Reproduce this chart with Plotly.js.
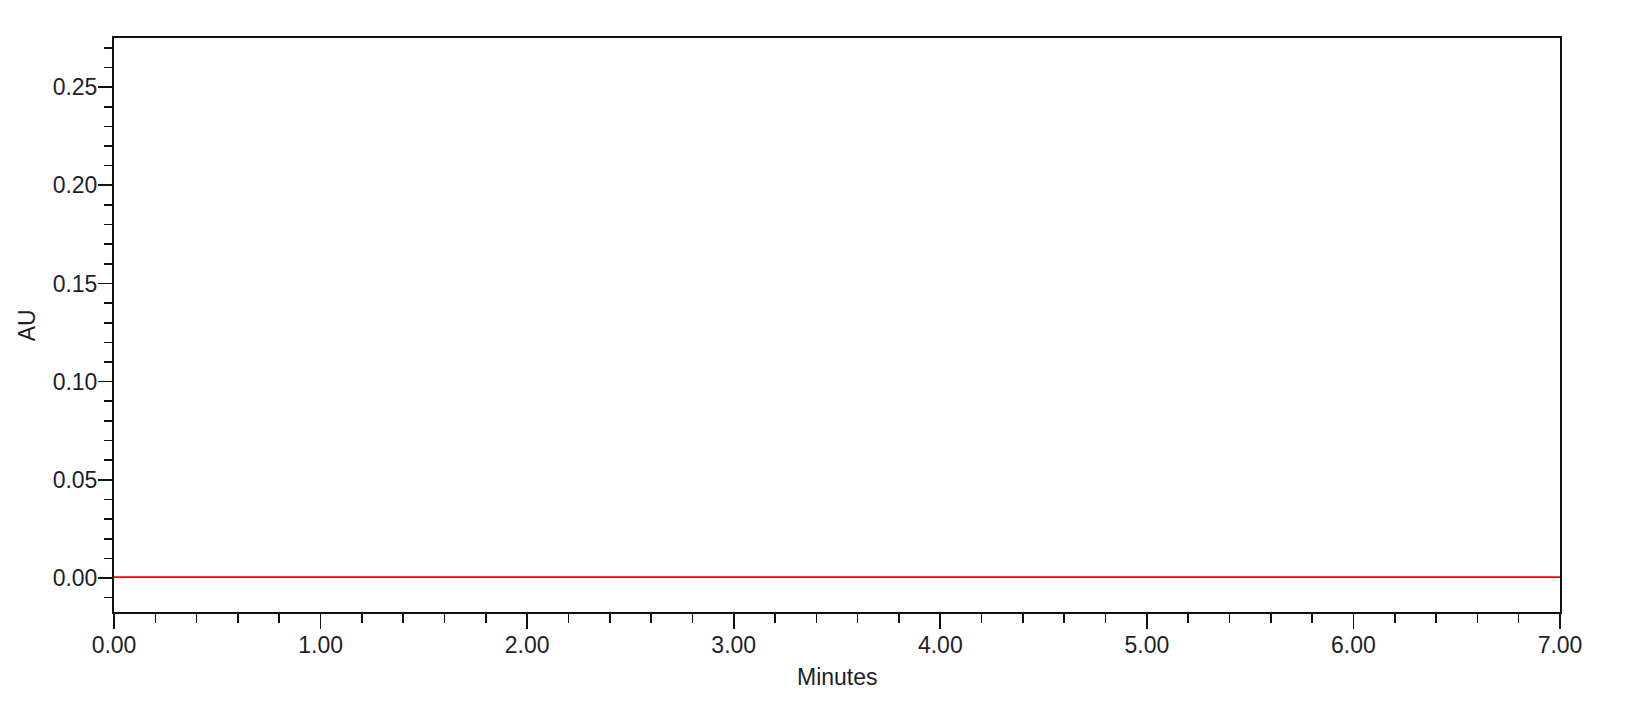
<!DOCTYPE html>
<html>
<head>
<meta charset="utf-8">
<script src="https://cdn.plot.ly/plotly-3.0.1.min.js"></script>
<style>
  html, body { margin: 0; padding: 0; background: #fff; }
  #chart { width: 1627px; height: 701px; }
</style>
</head>
<body>
<div id="chart"></div>
<script>
// Data (flat baseline, no peaks)
const timeMinutes = [0.00, 1.00, 2.00, 3.00, 4.00, 5.00, 6.00, 7.00];
const absorbanceAU = [0.0005, 0.0005, 0.0005, 0.0005, 0.0005, 0.0005, 0.0005, 0.0005];

const xTitle = "Minutes";
const yTitle = "AU";

const tickFont = { family: "Liberation Sans, Arial, sans-serif", size: 23, color: "#1e1e28" };

const trace = {
  x: timeMinutes,
  y: absorbanceAU,
  type: "scatter",
  mode: "lines",
  line: { color: "#ff0000", width: 1.8 },
  hoverinfo: "skip",
  showlegend: false
};

const layout = {
  width: 1627,
  height: 701,
  margin: { l: 114, r: 67, t: 38, b: 89 },
  paper_bgcolor: "#ffffff",
  plot_bgcolor: "#ffffff",
  showlegend: false,
  xaxis: {
    range: [0, 7],
    dtick: 1,
    tick0: 0,
    tickformat: ".2f",
    ticks: "outside",
    ticklen: 15,
    tickwidth: 1.6,
    tickcolor: "#111",
    ticklabelstandoff: -4,
    minor: { dtick: 0.2, ticks: "outside", ticklen: 9, tickwidth: 1.6, tickcolor: "#111", showgrid: false },
    showgrid: false,
    zeroline: false,
    showline: true,
    linecolor: "#111",
    linewidth: 2,
    mirror: true,
    tickfont: tickFont,
    automargin: false
  },
  yaxis: {
    range: [-0.0173, 0.275],
    dtick: 0.05,
    tick0: 0,
    tickformat: ".2f",
    ticks: "outside",
    ticklen: 14,
    tickwidth: 1.6,
    tickcolor: "#111",
    ticklabelstandoff: -4,
    minor: { dtick: 0.01, ticks: "outside", ticklen: 8, tickwidth: 1.6, tickcolor: "#111", showgrid: false },
    showgrid: false,
    zeroline: false,
    showline: true,
    linecolor: "#111",
    linewidth: 2,
    mirror: true,
    tickfont: tickFont,
    automargin: false
  },
  annotations: [{
    text: yTitle,
    xref: "paper", yref: "paper",
    x: -0.06, y: 0.5,
    xanchor: "center", yanchor: "middle",
    textangle: -90,
    showarrow: false,
    font: tickFont
  }, {
    text: xTitle,
    xref: "paper", yref: "paper",
    x: 0.5, y: -0.087,
    xanchor: "center", yanchor: "top",
    showarrow: false,
    font: tickFont
  }]
};

Plotly.newPlot("chart", [trace], layout, { staticPlot: true, displayModeBar: false });
</script>
</body>
</html>
